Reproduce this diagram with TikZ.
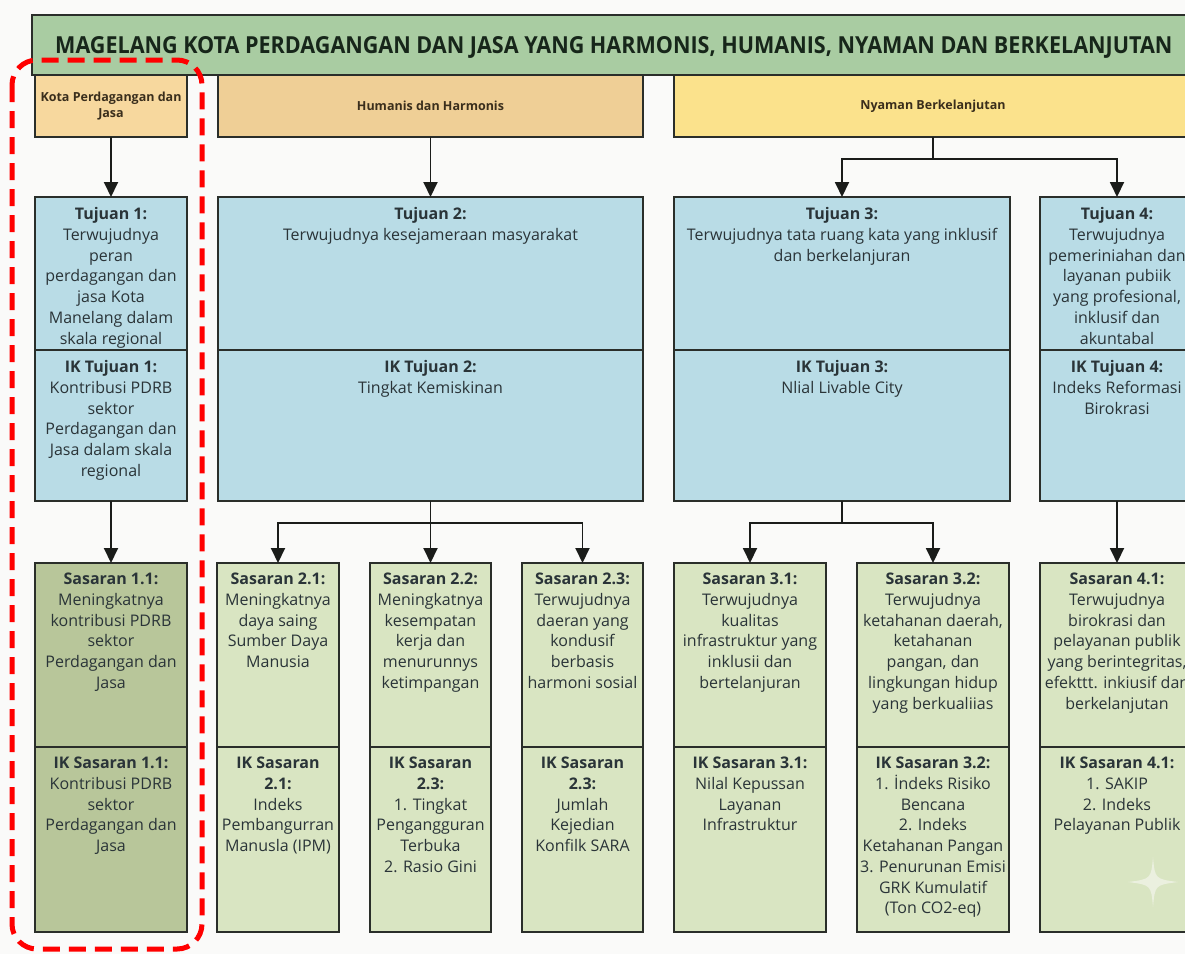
\documentclass[tikz,border=0pt]{standalone}
\usepackage{fontspec}
\setmainfont{Open Sans}
\usetikzlibrary{arrows.meta}
\definecolor{bgc}{HTML}{FAFAF9}
\definecolor{bannerc}{HTML}{A9CCA2}
\definecolor{thAc}{HTML}{F7D89E}
\definecolor{thBc}{HTML}{EFCF96}
\definecolor{thCc}{HTML}{FBE28C}
\definecolor{tujc}{HTML}{B9DCE6}
\definecolor{sasc}{HTML}{D9E5C2}
\definecolor{sasdark}{HTML}{B8C69A}
\definecolor{linec}{HTML}{2A2E2A}
\definecolor{arrc}{HTML}{1A1C1A}
\definecolor{textc}{HTML}{2A3438}
\definecolor{titlec}{HTML}{17261A}
\definecolor{themetxt}{HTML}{3A2E1C}
\definecolor{wmc}{HTML}{EBF0DF}
\newcommand\mkbox[6]{\node[#2, minimum width={(#5)-(#3)}, minimum height={(#6)-(#4)}] (#1) at ({((#3)+(#5))/2},{((#4)+(#6))/2}) {};}
\tikzset{
  boxst/.style={draw=linec, line width=1.8pt, rectangle, inner sep=0pt, outer sep=0pt},
  bannerbox/.style={boxst, fill=bannerc},
  themeA/.style={boxst, fill=thAc},
  themeB/.style={boxst, fill=thBc},
  themeC/.style={boxst, fill=thCc},
  tujbox/.style={boxst, fill=tujc},
  sasbox/.style={boxst, fill=sasc},
  sasdarkbox/.style={boxst, fill=sasdark},
  txt/.style={anchor=north, align=center, inner sep=0pt, text=textc, font=\fontsize{16}{20.7}\selectfont},
  themetext/.style={align=center, inner sep=0pt, text=themetxt, font=\bfseries\fontsize{12.5}{15.5}\selectfont},
  conn/.style={draw=arrc, line width=1.9pt},
  arr/.style={conn, -{Triangle[width=14pt,length=15pt]}},
  hilite/.style={draw=red, line width=5pt, dash pattern=on 17pt off 9pt, rounded corners=25pt},
}
\begin{document}
\begin{tikzpicture}[x=1pt,y=-1pt]
\path[use as bounding box, fill=bgc] (0,0) rectangle (1185,954);
\clip (0,0) rectangle (1185,954);
% banner
\mkbox{banner}{bannerbox}{32}{15}{1200}{75}
\node[anchor=base west, inner sep=0pt, text=titlec] (ttl) at (55,53.5) {\resizebox{1117pt}{17pt}{\bfseries MAGELANG KOTA PERDAGANGAN DAN JASA YANG HARMONIS, HUMANIS, NYAMAN DAN BERKELANJUTAN}};
% themes
\mkbox{th1}{themeA}{35}{75}{187}{137}
\mkbox{th2}{themeB}{218}{75}{643}{137}
\mkbox{th3}{themeC}{674}{75}{1192}{137}
\node[themetext] (th1l) at (th1.center) {Kota Perdagangan dan\\Jasa};
\node[themetext] (th2l) at (th2.center) {Humanis dan Harmonis};
\node[themetext] (th3l) at (th3.center) {Nyaman Berkelanjutan};
% tujuan
\mkbox{t1}{tujbox}{35}{197}{187}{350}
\mkbox{ik1}{tujbox}{35}{350}{187}{501}
\mkbox{t2}{tujbox}{218}{197}{643}{350}
\mkbox{ik2}{tujbox}{218}{350}{643}{501}
\mkbox{t3}{tujbox}{674}{197}{1010}{350}
\mkbox{ik3}{tujbox}{674}{350}{1010}{501}
\mkbox{t4}{tujbox}{1040}{197}{1194}{350}
\mkbox{ik4}{tujbox}{1040}{350}{1194}{501}
\node[txt] (t1l) at ([yshift=-10.5pt]t1.north) {\textbf{Tujuan 1:}\\Terwujudnya\\peran\\perdagangan dan\\jasa Kota\\Manelang dalam\\skala regional};
\node[txt] (ik1l) at ([yshift=-10.5pt]ik1.north) {\textbf{IK Tujuan 1:}\\Kontribusi PDRB\\sektor\\Perdagangan dan\\Jasa dalam skala\\regional};
\node[txt] (t2l) at ([yshift=-10.5pt]t2.north) {\textbf{Tujuan 2:}\\Terwujudnya kesejameraan masyarakat};
\node[txt] (ik2l) at ([yshift=-10.5pt]ik2.north) {\textbf{IK Tujuan 2:}\\Tingkat Kemiskinan};
\node[txt] (t3l) at ([yshift=-10.5pt]t3.north) {\textbf{Tujuan 3:}\\Terwujudnya tata ruang kata yang inklusif\\dan berkelanjuran};
\node[txt] (ik3l) at ([yshift=-10.5pt]ik3.north) {\textbf{IK Tujuan 3:}\\Nlial Livable City};
\node[txt] (t4l) at ([yshift=-10.5pt]t4.north) {\textbf{Tujuan 4:}\\Terwujudnya\\pemeriniahan dan\\layanan pubiik\\yang profesional,\\inklusif dan\\akuntabal};
\node[txt] (ik4l) at ([yshift=-10.5pt]ik4.north) {\textbf{IK Tujuan 4:}\\Indeks Reformasi\\Birokrasi};
% sasaran
\mkbox{s11}{sasdarkbox}{35}{563}{187}{747}
\mkbox{iks11}{sasdarkbox}{35}{747}{187}{932}
\mkbox{s21}{sasbox}{217}{563}{339}{747}
\mkbox{iks21}{sasbox}{217}{747}{339}{932}
\mkbox{s22}{sasbox}{370}{563}{491}{747}
\mkbox{iks22}{sasbox}{370}{747}{491}{932}
\mkbox{s23}{sasbox}{522}{563}{643}{747}
\mkbox{iks23}{sasbox}{522}{747}{643}{932}
\mkbox{s31}{sasbox}{674}{563}{826}{747}
\mkbox{iks31}{sasbox}{674}{747}{826}{932}
\mkbox{s32}{sasbox}{857}{563}{1009}{747}
\mkbox{iks32}{sasbox}{857}{747}{1009}{932}
\mkbox{s41}{sasbox}{1040}{563}{1194}{747}
\mkbox{iks41}{sasbox}{1040}{747}{1194}{932}
\node[txt] (s11l) at ([yshift=-10pt]s11.north) {\textbf{Sasaran 1.1:}\\Meningkatnya\\kontribusi PDRB\\sektor\\Perdagangan dan\\Jasa};
\node[txt] (iks11l) at ([yshift=-10pt]iks11.north) {\textbf{IK Sasaran 1.1:}\\Kontribusi PDRB\\sektor\\Perdagangan dan\\Jasa};
\node[txt] (s21l) at ([yshift=-10pt]s21.north) {\textbf{Sasaran 2.1:}\\Meningkatnya\\daya saing\\Sumber Daya\\Manusia};
\node[txt] (iks21l) at ([yshift=-10pt]iks21.north) {\textbf{IK Sasaran}\\\textbf{2.1:}\\Indeks\\Pembangurran\\Manusla (IPM)};
\node[txt] (s22l) at ([yshift=-10pt]s22.north) {\textbf{Sasaran 2.2:}\\Meningkatnya\\kesempatan\\kerja dan\\menurunnys\\ketimpangan};
\node[txt] (iks22l) at ([yshift=-10pt]iks22.north) {\textbf{IK Sasaran}\\\textbf{2.3:}\\1. Tingkat\\Pengangguran\\Terbuka\\2. Rasio Gini};
\node[txt] (s23l) at ([yshift=-10pt]s23.north) {\textbf{Sasaran 2.3:}\\Terwujudnya\\daeran yang\\kondusif\\berbasis\\harmoni sosial};
\node[txt] (iks23l) at ([yshift=-10pt]iks23.north) {\textbf{IK Sasaran}\\\textbf{2.3:}\\Jumlah\\Kejedian\\Konfilk SARA};
\node[txt] (s31l) at ([yshift=-10pt]s31.north) {\textbf{Sasaran 3.1:}\\Terwujudnya\\kualitas\\infrastruktur yang\\inklusii dan\\bertelanjuran};
\node[txt] (iks31l) at ([yshift=-10pt]iks31.north) {\textbf{IK Sasaran 3.1:}\\Nilal Kepussan\\Layanan\\Infrastruktur};
\node[txt] (s32l) at ([yshift=-10pt]s32.north) {\textbf{Sasaran 3.2:}\\Terwujudnya\\ketahanan daerah,\\ketahanan\\pangan, dan\\lingkungan hidup\\yang berkualiias};
\node[txt] (iks32l) at ([yshift=-10pt]iks32.north) {\textbf{IK Sasaran 3.2:}\\1. İndeks Risiko\\Bencana\\2. Indeks\\Ketahanan Pangan\\3. Penurunan Emisi\\GRK Kumulatif\\(Ton CO2-eq)};
\node[txt] (s41l) at ([yshift=-10pt]s41.north) {\textbf{Sasaran 4.1:}\\Terwujudnya\\birokrasi dan\\pelayanan publik\\yang berintegritas,\\efekttt. inkiusif dan\\berkelanjutan};
\node[txt] (iks41l) at ([yshift=-10pt]iks41.north) {\textbf{IK Sasaran 4.1:}\\1. SAKIP\\2. Indeks\\Pelayanan Publik};
% connectors
\draw[arr] (th1.south) -- (t1.north);
\draw[arr] (th2.south) -- (t2.north);
\coordinate (j3) at ([yshift=-22pt]th3.south);
\draw[conn] (th3.south) -- (j3);
\draw[arr] (j3) -| (t3.north);
\draw[arr] (j3) -| (t4.north);
\draw[arr] (ik1.south) -- (s11.north);
\coordinate (j2) at ([yshift=-22pt]ik2.south);
\draw[conn] (ik2.south) -- (j2);
\draw[arr] (j2) -| (s21.north);
\draw[arr] (j2) -- (s22.north);
\draw[arr] (j2) -| (s23.north);
\coordinate (j4) at ([yshift=-22pt]ik3.south);
\draw[conn] (ik3.south) -- (j4);
\draw[arr] (j4) -| (s31.north);
\draw[arr] (j4) -| (s32.north);
\draw[arr] (ik4.south) -- (s41.north);
% highlight
\draw[hilite] (12,60) rectangle (202,949);
% watermark sparkle
\fill[wmc] (1153,857) .. controls (1155,879) .. (1178,882) .. controls (1155,885) .. (1153,907) .. controls (1151,885) .. (1128,882) .. controls (1151,879) .. (1153,857) -- cycle;
\end{tikzpicture}
\end{document}
